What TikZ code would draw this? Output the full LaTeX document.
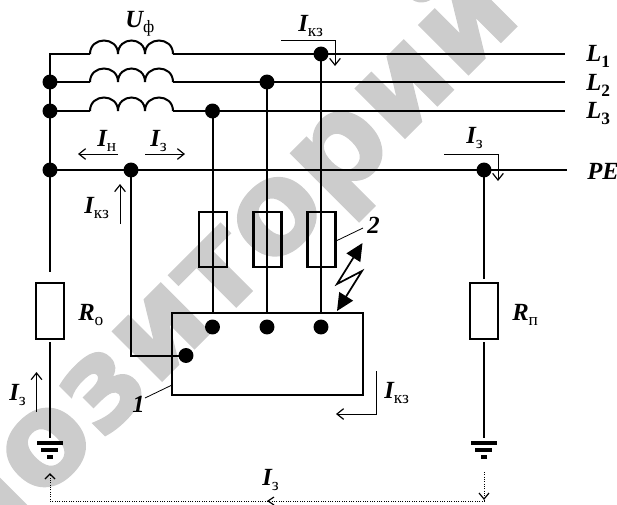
\documentclass[tikz,border=0pt]{standalone}
\usepackage{fontspec}
\setmainfont{Liberation Serif}
\newfontfamily\wmfont[FakeBold=1.2]{DejaVu Sans Bold}
\usetikzlibrary{arrows.meta}
\definecolor{wm}{HTML}{CCCCCC}
\tikzset{
  wire/.style={line width=1.5pt},
  thinline/.style={line width=0.5pt,-{Straight Barb[length=5pt,width=8pt,line width=0.9pt]}},
  dotline/.style={line width=0.75pt,dash pattern=on 0.75pt off 1pt},
  dotnode/.style={circle,fill=black,inner sep=0pt,minimum size=11.2pt},
  res/.style={draw,line width=1.6pt,minimum width=21pt,minimum height=41.5pt,inner sep=0pt,fill=none},
  lab/.style={anchor=base west,inner sep=0pt,font=\fontsize{18.5}{18.5}\selectfont\bfseries\itshape},
  watermark/.style={text=wm,font=\wmfont\fontsize{96}{96}\selectfont,rotate=45,anchor=base west,inner sep=0pt}
}
\newcommand{\sbs}[1]{\raisebox{-0.22em}{\fontsize{13}{13}\selectfont\normalfont #1}}
\newcommand{\dgt}[1]{\raisebox{-0.25em}{\fontsize{13}{13}\selectfont\bfseries\upshape #1}}
\begin{document}
\begin{tikzpicture}[x=0.75pt,y=-0.75pt]
\useasboundingbox (0,0) rectangle (617,504);
\begin{scope}
\clip (0,0) rectangle (617,504);
\node[watermark] (wmark) at (-23,566) {позиторий};
\end{scope}

% buses
\coordinate (l1s) at (90,54); \coordinate (l1e) at (565,54);
\coordinate (l2s) at (90,82); \coordinate (l2e) at (565,82);
\coordinate (l3s) at (90,111); \coordinate (l3e) at (565,111);
\coordinate (pee) at (567,170);
\node[dotnode] (n2) at (50,82) {};
\node[dotnode] (n3) at (50,111) {};
\node[dotnode] (n0) at (50,170) {};
\node[dotnode] (npe) at (131,170) {};
\node[dotnode] (a3) at (212.5,111) {};
\node[dotnode] (a2) at (267,82) {};
\node[dotnode] (a1) at (321,54) {};
\node[dotnode] (nr) at (484,170) {};
\coordinate (top) at (50,54);

\draw[wire] (l1s) -- (top) -- (n0.center) -- (50,272);
\draw[wire] (n2.center) -- (l2s);
\draw[wire] (n3.center) -- (l3s);
\foreach \yy in {54,82,111}{
  \draw[wire] (90,\yy) .. controls (90,\yy-18) and (118,\yy-18) .. (118,\yy)
     .. controls (118,\yy-18) and (145,\yy-18) .. (145,\yy)
     .. controls (145,\yy-18) and (173,\yy-18) .. (173,\yy);
}
\draw[wire] (173,54) -- (l1e);
\draw[wire] (173,82) -- (l2e);
\draw[wire] (173,111) -- (l3e);
\draw[line width=1.2pt] (n0.center) -- (pee);

% load box
\node[draw,line width=1.7pt,minimum width=143pt,minimum height=61.5pt,inner sep=0pt] (box) at (267.5,354) {};
\node[dotnode] (b3) at (212.5,327) {};
\node[dotnode] (b2) at (267,327) {};
\node[dotnode] (b1) at (321,327) {};
\node[dotnode] (b0) at (186,355.5) {};
\draw[wire] (a3.center) -- (212.5,313);
\draw[wire] (a2.center) -- (267,313);
\draw[wire] (a1.center) -- (321,313);
\node[res] (f3) at (213,239.5) {};
\node[res] (f2) at (267.5,239.5) {};
\node[res] (f1) at (321.5,239.5) {};
\draw[wire] (npe.center) -- (131,355.5) -- (b0.center);

% R0
\node[res] (r0) at (50,311) {};
\coordinate (g0) at (50,438);
\draw[wire] (50,342) -- (g0);
\draw[line width=3pt] (37,443) -- (63,443);
\draw[line width=3pt] (41,449.5) -- (58,449.5);
\draw[line width=3pt] (47,456.5) -- (53,456.5);

% Rp
\node[res] (rp) at (484,311) {};
\coordinate (g1) at (484,438);
\draw[wire] (nr.center) -- (484,279);
\draw[wire] (484,342) -- (g1);
\draw[line width=3pt] (471,443) -- (497,443);
\draw[line width=3pt] (475,449.5) -- (492,449.5);
\draw[line width=3pt] (481,456.5) -- (487,456.5);

% thin arrows
\draw[thinline] (118,154) -- (78,154);
\draw[thinline] (145,154) -- (185,154);
\draw[thinline] (120,224) -- (120,184);
\draw[thinline] (281,40) -- (335,40) -- (335,66);
\draw[thinline] (444,154) -- (498,154) -- (498,181);
\draw[thinline] (36.5,412) -- (36.5,372);
\draw[thinline] (376,371) -- (376,414) -- (336,414);

% dotted loop
\draw[dotline] (484,472) -- (484,501) -- (50,501) -- (50,474);
\draw[line width=0.9pt] (45,479) -- (50,474) -- (55,479);
\draw[line width=0.9pt] (479,493) -- (484,499) -- (489,493);
\draw[line width=0.9pt] (274,497) -- (268,501) -- (274,505);

% lightning
\coordinate (z1) at (362.5,243);
\coordinate (z2) at (337,284);
\coordinate (z3) at (362,271);
\coordinate (z4) at (337,311);
\draw[line width=1.3pt,miter limit=10,{Triangle[length=13pt,width=12pt]}-{Triangle[length=13pt,width=12pt]}] (z1) -- (z2) -- (z3) -- (z4);

% leaders
\node[lab] (lab1) at (132,412) {1};
\node[lab] (lab2) at (367,233) {2};
\coordinate (lead1) at (172,385);
\coordinate (lead2) at (336,241);
\draw[line width=0.6pt] (145,398) -- (lead1);
\draw[line width=0.6pt] (lead2) -- (363,228);

% labels
\node[lab] (lu) at (125,27) {U\sbs{ф}};
\node[lab] (li1) at (97,146) {I\sbs{н}};
\node[lab] (li2) at (150,146) {I\sbs{з}};
\node[lab] (li3) at (84,213) {I\sbs{кз}};
\node[lab] (li4) at (298,31) {I\sbs{кз}};
\node[lab] (ll1) at (586,61) {L\dgt{1}};
\node[lab] (ll2) at (586,90) {L\dgt{2}};
\node[lab] (ll3) at (586,118) {L\dgt{3}};
\node[lab] (lpe) at (587,179) {PE};
\node[lab] (li5) at (466,143) {I\sbs{з}};
\node[lab] (lr0) at (78,320) {R\sbs{о}};
\node[lab] (lrp) at (512,320) {R\sbs{п}};
\node[lab] (li6) at (9,400) {I\sbs{з}};
\node[lab] (li7) at (384,398) {I\sbs{кз}};
\node[lab] (li8) at (262,485) {I\sbs{з}};
\end{tikzpicture}
\end{document}
